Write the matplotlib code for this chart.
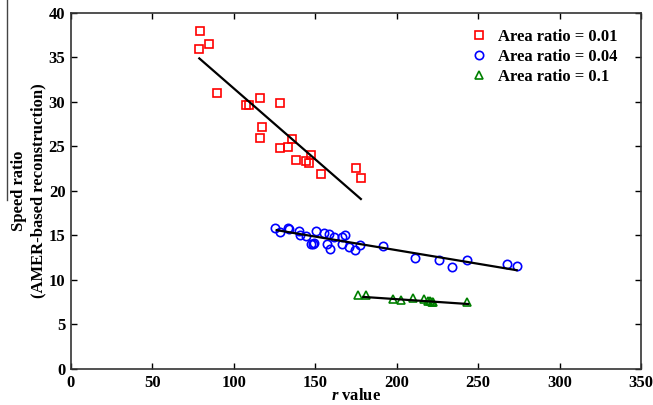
import numpy as np
import matplotlib
matplotlib.use('Agg')
import matplotlib.pyplot as plt
from matplotlib.lines import Line2D

plt.rcParams['font.family'] = ['Liberation Serif', 'DejaVu Serif']
plt.rcParams['font.weight'] = 'bold'
plt.rcParams['mathtext.fontset'] = 'custom'
plt.rcParams['mathtext.it'] = 'Liberation Serif:italic:bold'

# Area ratio = 0.01
r_001 = [79.4, 84.5, 78.4, 89.4, 116.0, 107.2, 109.3, 128.1, 117.2, 116.2,
         135.5, 128.1, 133.2, 147.3, 138.3, 144.1, 146.1, 153.5, 175.1, 178.0]
s_001 = [38.0, 36.5, 35.9, 31.0, 30.5, 29.7, 29.7, 29.9, 27.2, 26.0,
         25.8, 24.8, 24.9, 24.1, 23.5, 23.4, 23.1, 21.9, 22.6, 21.5]
fit_r_001 = [78.8, 178.0]
fit_s_001 = [34.9, 19.1]

# Area ratio = 0.04
r_004 = [125.2, 128.3, 133.0, 133.8, 140.2, 140.6, 144.3, 150.2, 147.3, 148.8,
         149.2, 155.3, 158.4, 157.0, 159.0, 161.7, 166.4, 168.2, 166.2, 170.5,
         174.4, 177.5, 191.4, 211.2, 226.0, 234.1, 243.2, 267.7, 274.0]
s_004 = [15.8, 15.4, 15.8, 15.7, 15.5, 15.1, 14.9, 15.5, 14.0, 14.1,
         14.2, 15.3, 15.2, 14.1, 13.5, 14.8, 14.8, 15.0, 14.1, 13.7,
         13.4, 13.9, 13.8, 12.5, 12.3, 11.5, 12.3, 11.8, 11.6]
fit_r_004 = [126.3, 273.7]
fit_s_004 = [15.6, 11.1]

# Area ratio = 0.1
r_01 = [176.4, 180.9, 197.9, 202.4, 210.2, 216.9, 219.5, 220.5, 221.4, 222.4, 243.1]
s_01 = [8.3, 8.3, 7.85, 7.75, 7.95, 7.85, 7.65, 7.6, 7.55, 7.5, 7.5]
fit_r_01 = [179.5, 244.0]
fit_s_01 = [8.1, 7.3]

fig = plt.figure(figsize=(6.53, 4.05), dpi=100)
ax = fig.add_axes([0.1087, 0.0889, 0.8729, 0.8790])

mk = dict(linestyle='none', markerfacecolor='none', markersize=6, markeredgewidth=1.2)
ax.plot(r_001, s_001, marker='s', color='red', label='Area ratio = 0.01', **mk)
ax.plot(r_004, s_004, marker='o', color='blue', label='Area ratio = 0.04', **mk)
ax.plot(r_01, s_01, marker='^', color='green', label='Area ratio = 0.1', **mk)

ax.plot(fit_r_001, fit_s_001, color='black', lw=1.6)
ax.plot(fit_r_004, fit_s_004, color='black', lw=1.6)
ax.plot(fit_r_01, fit_s_01, color='black', lw=1.6)

ax.set_xlim(0, 350)
ax.set_ylim(0, 40)
ax.set_xticks(range(0, 351, 50))
ax.set_yticks(range(0, 41, 5))
ax.tick_params(direction='in', top=True, right=True, length=4, width=1,
               labelsize=12, pad=4)
for sp in ax.spines.values():
    sp.set_linewidth(1.2)
    sp.set_color('#333333')

ax.set_xlabel(r'$\mathit{r}$ value', fontsize=12, fontweight='bold', labelpad=-2)
ax.set_ylabel('Speed ratio\n(AMER-based reconstruction)', fontsize=12,
              fontweight='bold', labelpad=2, linespacing=1.2)

ax.legend(loc='upper right', bbox_to_anchor=(0.985, 0.998), frameon=False,
          fontsize=12, handletextpad=0.4, labelspacing=0.25, handlelength=1.5)

# stray border line at the far left of the original figure
fig.add_artist(Line2D([0.011, 0.011], [0.505, 1.0], color='#444444', lw=1))

fig.savefig('out.png', dpi=100)
